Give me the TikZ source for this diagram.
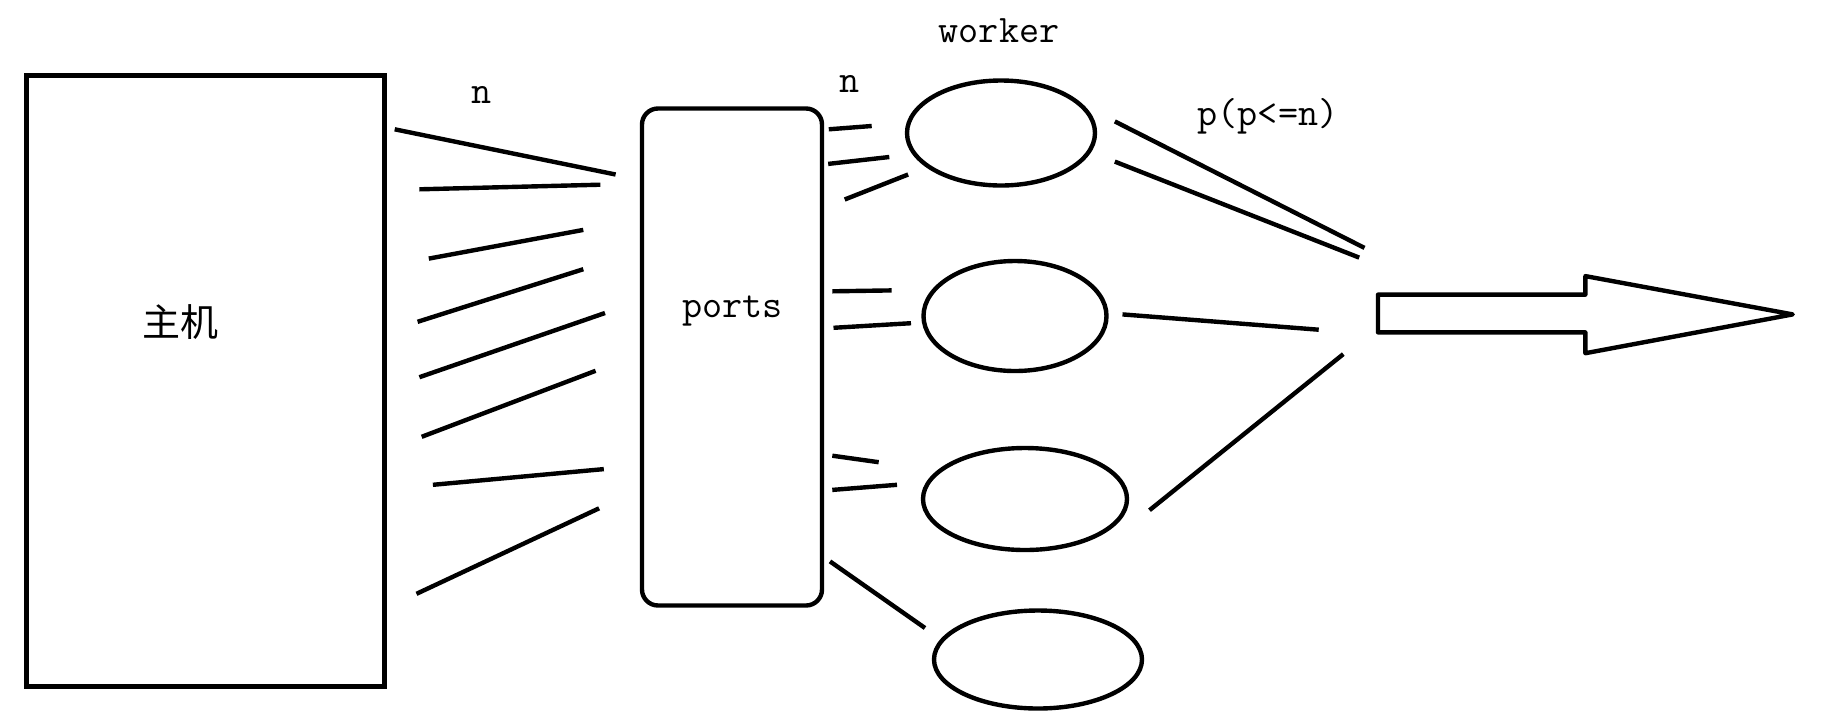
\documentclass[tikz,border=0pt]{standalone}
\usepackage{fontspec}
\newfontfamily\cjk{Noto Sans CJK SC}
\usetikzlibrary{shapes.geometric}
\tikzset{
  stroke/.style={line width=4.4pt},
  worker/.style={ellipse, draw, line width=4.4pt, inner sep=0pt},
  lbl/.style={font=\fontsize{39}{44}\selectfont\ttfamily, inner sep=0pt},
}
\begin{document}
\begin{tikzpicture}[x=1pt,y=-1pt]
\useasboundingbox (0,0) rectangle (1842,724);
\fill[white] (0,0) rectangle (1842,724);
% host
\node[draw, line width=4.4pt, minimum width=358pt, minimum height=611pt, inner sep=0pt] (host) at (205.5,381) {};
\node[font=\fontsize{38}{44}\selectfont\cjk, inner sep=0pt] (hostlbl) at (180,322) {主机};
% ports
\node[draw, line width=4.4pt, rounded corners=16pt, minimum width=180pt, minimum height=497pt, inner sep=0pt] (ports) at (732,357) {};
\node[lbl] (portslbl) at (732.5,311) {ports};
% labels
\node[lbl] (n1) at (482,95) {n};
\node[lbl] (n2) at (850,84) {n};
\node[lbl] (wl) at (999,31) {worker};
\node[lbl] (pl) at (1268,116) {p(p<=n)};
% workers
\node[worker, minimum width=188pt, minimum height=105pt] (w1) at (1001,133) {};
\node[worker, minimum width=183pt, minimum height=110pt] (w2) at (1015,316) {};
\node[worker, minimum width=204pt, minimum height=102pt] (w3) at (1025,499) {};
\node[worker, minimum width=208pt, minimum height=98pt] (w4) at (1038,659.5) {};
% host -> ports strokes
\draw[stroke] (394.7,129.3) -- (615.6,174.5);
\draw[stroke] (419.4,189.3) -- (600.3,184.7);
\draw[stroke] (428.8,258.6) -- (583.3,229.9);
\draw[stroke] (417.6,321.8) -- (583.3,269.2);
\draw[stroke] (419.4,377.2) -- (605,313);
\draw[stroke] (421.7,436.8) -- (595.6,370.8);
\draw[stroke] (432.9,484.8) -- (603.8,469.1);
\draw[stroke] (416.5,593.8) -- (599.1,508.3);
% ports -> workers strokes
\draw[stroke] (828.8,129.3) -- (871.7,126);
\draw[stroke] (828.2,163.9) -- (889.3,157);
\draw[stroke] (844.7,199.5) -- (908.1,174.5);
\draw[stroke] (832.3,291.3) -- (891.6,290.4);
\draw[stroke] (833.5,327.8) -- (911,323.2);
\draw[stroke] (832.3,455.7) -- (878.7,462.2);
\draw[stroke] (832.3,489.9) -- (897,484.8);
\draw[stroke] (830,561.4) -- (925,628);
% workers -> output strokes
\draw[stroke] (1114.8,121.4) -- (1364.5,247.9);
\draw[stroke] (1114.8,161.6) -- (1359.2,257.6);
\draw[stroke] (1122.5,314.4) -- (1318.7,329.7);
\draw[stroke] (1149.5,510.2) -- (1343.3,354.1);
% big arrow
\draw[stroke, line join=round] (1378,294.6) -- (1585.4,294.6) -- (1585.4,276.1) -- (1792.7,314.4) -- (1585.4,353.2) -- (1585.4,332.4) -- (1378,332.4) -- cycle;
\end{tikzpicture}
\end{document}
